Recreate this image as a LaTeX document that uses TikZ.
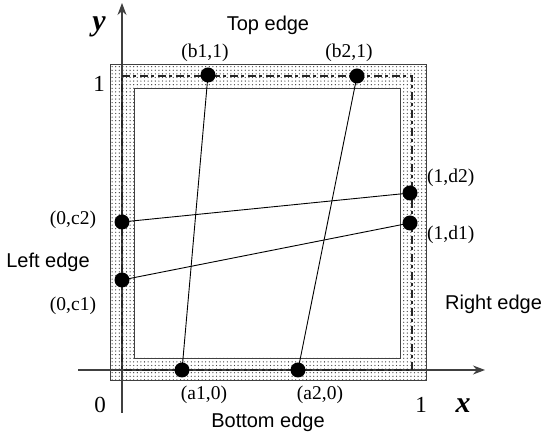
\documentclass[tikz,border=0pt]{standalone}
\usepackage{fontspec}
\setmainfont{Liberation Serif}
\newfontfamily\sansf{Liberation Sans}
\usetikzlibrary{patterns,arrows.meta}
\pgfdeclarepatternformonly{bigdots}{\pgfqpoint{-1pt}{-1pt}}{\pgfqpoint{2pt}{2pt}}{\pgfqpoint{3.6pt}{3.6pt}}{%
  \pgfpathcircle{\pgfqpoint{0.5pt}{0.5pt}}{0.65pt}\pgfusepath{fill}}
\tikzset{
  dot/.style={circle,fill=black,inner sep=0pt,minimum size=15pt},
  coordlbl/.style={font=\fontsize{19.5}{20}\selectfont,inner sep=0pt,anchor=base},
  edgelbl/.style={font=\sansf\fontsize{20}{21}\selectfont,inner sep=0pt,anchor=base},
  numlbl/.style={font=\fontsize{23}{24}\selectfont,inner sep=0pt,anchor=base},
  axislbl/.style={font=\bfseries\itshape\fontsize{30}{30}\selectfont,inner sep=0pt,anchor=base},
  axisline/.style={line width=1.1pt,black!75,-{Stealth[length=12pt,width=9pt]}},
  segline/.style={line width=0.9pt,black},
  bandedge/.style={line width=0.9pt,black!75},
  midline/.style={line width=2pt,black!85,dash pattern=on 8pt off 3pt on 3pt off 4pt}
}
\begin{document}
\begin{tikzpicture}[x=1pt,y=-1pt]
\useasboundingbox (0,0) rectangle (542,438);
% band
\path[pattern=bigdots,pattern color=black!75,even odd rule]
  (110,64) rectangle (426,380) (134,88) rectangle (400,358);
\draw[bandedge] (110,64) rectangle (426,380);
\draw[bandedge] (134,88) rectangle (400,358);
% coordinates of band corners / axes
\coordinate (ya) at (122,413);
\coordinate (yb) at (122,3);
\coordinate (xa) at (78,370);
\coordinate (xb) at (485,370);
\coordinate (tl) at (122,76);
\coordinate (tr) at (412,76);
\coordinate (br) at (412,370);
\coordinate (bl) at (122,370);
% axes
\draw[axisline] (ya) -- (yb);
\draw[axisline] (xa) -- (xb);
% middle dashed lines
\draw[midline] (tl) -- (tr) -- (br) -- (bl) -- cycle;
% dots
\node[dot] (b1) at (208,75) {};
\node[dot] (b2) at (357,76) {};
\node[dot] (a1) at (182,370) {};
\node[dot] (a2) at (298,370) {};
\node[dot] (c2) at (122,222) {};
\node[dot] (c1) at (122,280) {};
\node[dot] (d2) at (410,193) {};
\node[dot] (d1) at (410,223) {};
% segments
\draw[segline] (b1.center) -- (a1.center);
\draw[segline] (b2.center) -- (a2.center);
\draw[segline] (c2.center) -- (d2.center);
\draw[segline] (c1.center) -- (d1.center);
% labels
\node[edgelbl] (top) at (268,31) {Top edge};
\node[edgelbl] (bottom) at (268,428) {Bottom edge};
\node[edgelbl] (left) at (48,268) {Left edge};
\node[edgelbl,anchor=base west] (right) at (445,310) {Right edge};
\node[coordlbl] (lb1) at (205,58) {(b1,1)};
\node[coordlbl] (lb2) at (349,58) {(b2,1)};
\node[coordlbl] (la1) at (204,400) {(a1,0)};
\node[coordlbl] (la2) at (320,400) {(a2,0)};
\node[coordlbl] (lc2) at (73,225) {(0,c2)};
\node[coordlbl] (lc1) at (73,311) {(0,c1)};
\node[coordlbl,anchor=base west] (ld2) at (427,183) {(1,d2)};
\node[coordlbl,anchor=base west] (ld1) at (427,240) {(1,d1)};
\node[numlbl] (one-y) at (99,92) {1};
\node[numlbl] (zero) at (100,413) {0};
\node[numlbl] (one-x) at (421,413) {1};
\node[axislbl] (xl) at (463,413) {x};
\node[axislbl] (yl) at (99,31) {y};
\end{tikzpicture}
\end{document}
